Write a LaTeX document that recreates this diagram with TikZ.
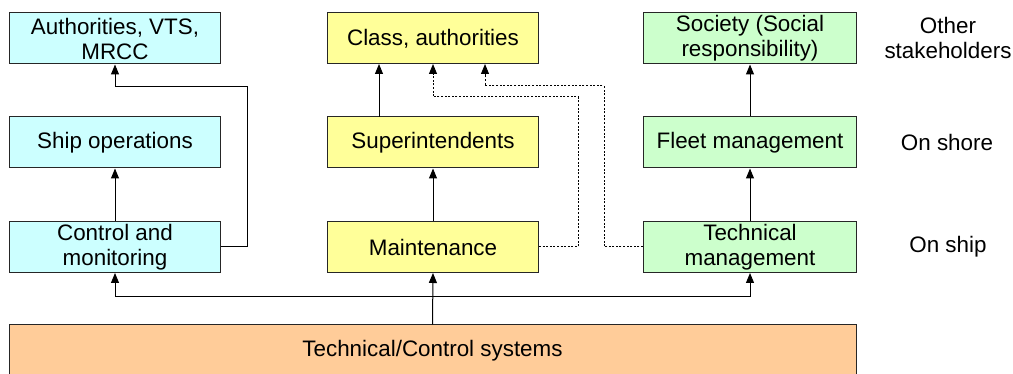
\documentclass[tikz,border=0pt]{standalone}
\usepackage{fontspec}
\setmainfont{Liberation Sans}
\usetikzlibrary{arrows.meta}
\definecolor{cyanbox}{HTML}{CCFFFF}
\definecolor{yellowbox}{HTML}{FFFF99}
\definecolor{greenbox}{HTML}{CCFFCC}
\definecolor{orangebox}{HTML}{FFCC99}
\tikzset{
  box/.style={draw=black!85, line width=1pt, minimum width=211pt, minimum height=51pt,
    align=center, inner sep=0pt, font=\fontsize{22.4}{25}\selectfont},
  lbl/.style={align=center, inner sep=0pt, font=\fontsize{22.4}{25}\selectfont},
  arr/.style={line width=1pt, -{Triangle[width=8pt,length=10pt]}},
  dotarr/.style={line width=1pt, dash pattern=on 2pt off 1.6pt, -{Triangle[width=8pt,length=10pt]}}
}
\begin{document}
\begin{tikzpicture}[x=1pt,y=-1pt]
\useasboundingbox (0,0) rectangle (1013,374);
% cyan column
\node[box, fill=cyanbox] (auth) at (115,38.5) {Authorities, VTS,\\MRCC};
\node[box, fill=cyanbox] (shipops) at (115,142.5) {Ship operations};
\node[box, fill=cyanbox] (ctrl) at (115,247) {Control and\\monitoring};
% yellow column
\node[box, fill=yellowbox] (class) at (433,38.5) {Class, authorities};
\node[box, fill=yellowbox] (supt) at (433,142.5) {Superintendents};
\node[box, fill=yellowbox] (maint) at (433,247) {Maintenance};
% green column
\node[box, fill=greenbox, minimum width=213pt] (society) at (750,38.5) {Society (Social\\responsibility)};
\node[box, fill=greenbox, minimum width=213pt] (fleet) at (750,142.5) {Fleet management};
\node[box, fill=greenbox, minimum width=213pt] (tech) at (750,247) {Technical\\management};
% bottom
\node[draw=black!85, line width=1pt, fill=orangebox, minimum width=847pt, minimum height=52pt,
  inner sep=0pt, font=\fontsize{22.4}{25}\selectfont] (sys) at (432.5,351) {Technical/Control systems};
% right labels
\node[lbl] (other) at (948,37.5) {Other\\stakeholders};
\node[lbl] (shore) at (947,142.5) {On shore};
\node[lbl] (ship) at (948,247) {On ship};
% helper coordinates
\coordinate (c1) at (247,87);
\coordinate (supin) at (379,117);
\coordinate (clin1) at (379,64);
\coordinate (clin2) at (433,64);
\coordinate (clin3) at (485,64);
\coordinate (d1) at (578,97);
\coordinate (d2) at (604,86);
\coordinate (junc) at (433,297);
% connectors
\draw[arr] (ctrl.north) -- (shipops.south);
\draw[arr] (ctrl.east) -| (c1) -| (auth.south);
\draw[arr] (supin) -- (clin1);
\draw[arr] (maint.north) -- (supt.south);
\draw[dotarr] (maint.east) -| (d1) -| (clin2);
\draw[dotarr] (tech.west) -| (d2) -| (clin3);
\draw[arr] (fleet.north) -- (society.south);
\draw[arr] (tech.north) -- (fleet.south);
\draw[arr] (sys.north) -- (maint.south);
\draw[arr] (junc) -| (ctrl.south);
\draw[arr] (junc) -| (tech.south);
\end{tikzpicture}
\end{document}
